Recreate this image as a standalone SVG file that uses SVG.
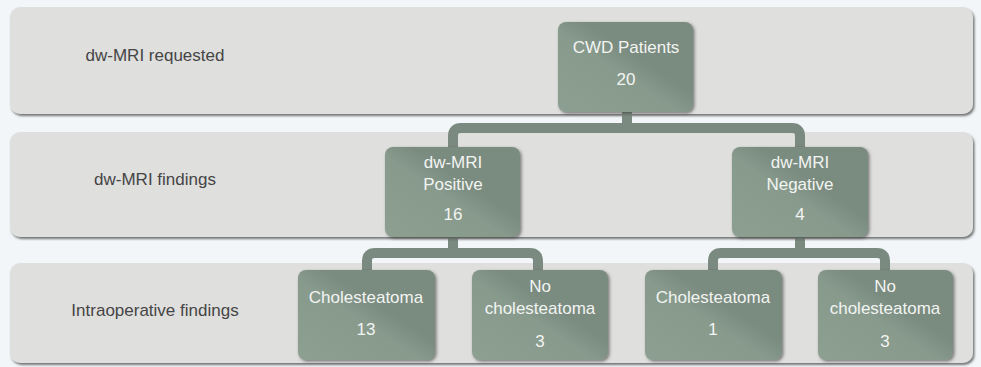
<svg xmlns="http://www.w3.org/2000/svg" width="981" height="367" viewBox="0 0 981 367">
<defs>
<linearGradient id="ng" x1="0" y1="1" x2="1" y2="0">
<stop offset="0" stop-color="#8c9f91"/>
<stop offset="0.45" stop-color="#879a8c"/>
<stop offset="0.6" stop-color="#7a8b7f"/>
<stop offset="1" stop-color="#7a8b7f"/>
</linearGradient>
<filter id="bs" x="-5%" y="-10%" width="110%" height="125%">
<feDropShadow dx="1.5" dy="2" stdDeviation="1.2" flood-color="#555" flood-opacity="0.8"/>
</filter>
<filter id="ns" x="-10%" y="-10%" width="125%" height="125%">
<feDropShadow dx="1.5" dy="1.5" stdDeviation="1.5" flood-color="#333" flood-opacity="0.6"/>
</filter>
</defs>
<style>
.band{fill:#dfdfde;filter:url(#bs);}
.node{fill:url(#ng);filter:url(#ns);}
.lbl{font-family:"Liberation Sans",Arial,sans-serif;font-size:17px;fill:#454545;text-anchor:middle;}
.nt{font-family:"Liberation Sans",Arial,sans-serif;font-size:17px;fill:#f2f4f2;text-anchor:middle;}
.conn{fill:none;stroke:#7b8a80;stroke-width:10;}
</style>
<rect width="981" height="367" fill="#f2f6f9"/>
<g id="band1"><rect class="band" x="10" y="7" width="963" height="107" rx="10"/><text class="lbl" x="155" y="61">dw-MRI requested</text></g>
<g id="band2"><rect class="band" x="10" y="132" width="963" height="105" rx="10"/><text class="lbl" x="155" y="185">dw-MRI findings</text></g>
<g id="band3"><rect class="band" x="10" y="263" width="963" height="100" rx="10"/><text class="lbl" x="155" y="316">Intraoperative findings</text></g>
<g id="connectors">
<path class="conn" d="M627,110 V128"/>
<path class="conn" d="M453,150 V136 Q453,128 461,128 H792 Q800,128 800,136 V150"/>
<path class="conn" d="M453,235 V253"/>
<path class="conn" d="M367,272 V261 Q367,253 375,253 H530 Q538,253 538,261 V272"/>
<path class="conn" d="M800,235 V253"/>
<path class="conn" d="M713,272 V261 Q713,253 721,253 H877 Q885,253 885,261 V272"/>
</g>
<g id="n-cwd"><rect class="node" x="558" y="22" width="135" height="90" rx="8"/><text class="nt" x="626" y="53">CWD Patients</text><text class="nt" x="626" y="85">20</text></g>
<g id="n-pos"><rect class="node" x="385" y="147" width="135" height="90" rx="8"/><text class="nt" x="453" y="168">dw-MRI</text><text class="nt" x="453" y="190">Positive</text><text class="nt" x="453" y="220">16</text></g>
<g id="n-neg"><rect class="node" x="732" y="147" width="136" height="90" rx="8"/><text class="nt" x="800" y="168">dw-MRI</text><text class="nt" x="800" y="190">Negative</text><text class="nt" x="800" y="220">4</text></g>
<g id="n-c13"><rect class="node" x="298" y="270" width="137" height="90" rx="8"/><text class="nt" x="366" y="303">Cholesteatoma</text><text class="nt" x="366" y="335">13</text></g>
<g id="n-nc3a"><rect class="node" x="472" y="270" width="136" height="90" rx="8"/><text class="nt" x="540" y="292">No</text><text class="nt" x="540" y="314">cholesteatoma</text><text class="nt" x="540" y="347">3</text></g>
<g id="n-c1"><rect class="node" x="645" y="270" width="137" height="90" rx="8"/><text class="nt" x="713" y="303">Cholesteatoma</text><text class="nt" x="713" y="335">1</text></g>
<g id="n-nc3b"><rect class="node" x="818" y="270" width="135" height="90" rx="8"/><text class="nt" x="885" y="292">No</text><text class="nt" x="885" y="314">cholesteatoma</text><text class="nt" x="885" y="347">3</text></g>
</svg>
